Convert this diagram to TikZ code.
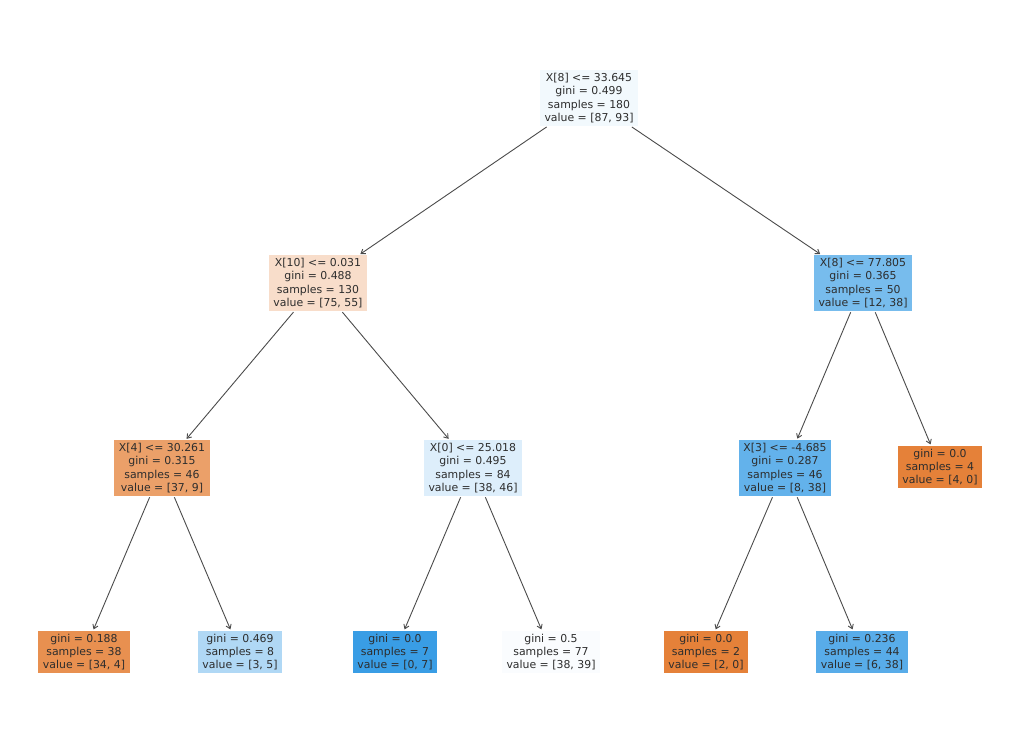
\documentclass[tikz,border=0pt]{standalone}
\usepackage{fontspec}
\setmainfont{DejaVu Sans}
\usetikzlibrary{arrows.meta}
\definecolor{txt}{RGB}{45,45,45}
\definecolor{edg}{RGB}{75,75,75}
\definecolor{c0}{RGB}{242,249,253}
\definecolor{c1}{RGB}{248,221,202}
\definecolor{c2}{RGB}{119,188,237}
\definecolor{c3}{RGB}{235,160,105}
\definecolor{c4}{RGB}{221,238,251}
\definecolor{c5}{RGB}{99,178,235}
\definecolor{c6}{RGB}{229,129,57}
\definecolor{c7}{RGB}{232,144,80}
\definecolor{c8}{RGB}{176,216,245}
\definecolor{c9}{RGB}{57,157,229}
\definecolor{c10}{RGB}{250,252,254}
\definecolor{c11}{RGB}{88,172,233}
\tikzset{
  tnode/.style={align=center, text=txt, inner xsep=4.5pt, inner ysep=3.2pt,
    font=\fontsize{10.9}{13.4}\selectfont},
  conn/.style={draw=edg, line width=0.9pt, -{Straight Barb[length=4pt,width=5.5pt]}, shorten >=1pt, shorten <=1pt}
}
\begin{document}
\begin{tikzpicture}[x=1pt,y=-1pt]
\useasboundingbox (0,0) rectangle (1024,751);
\node[tnode, fill=c0] (n0) at (589,98) {X[8] <= 33.645\\gini = 0.499\\samples = 180\\value = [87, 93]};
\node[tnode, fill=c1] (n1) at (318,283) {X[10] <= 0.031\\gini = 0.488\\samples = 130\\value = [75, 55]};
\node[tnode, fill=c2] (n2) at (863,283) {X[8] <= 77.805\\gini = 0.365\\samples = 50\\value = [12, 38]};
\node[tnode, fill=c3] (n3) at (162,468) {X[4] <= 30.261\\gini = 0.315\\samples = 46\\value = [37, 9]};
\node[tnode, fill=c4] (n4) at (473,468) {X[0] <= 25.018\\gini = 0.495\\samples = 84\\value = [38, 46]};
\node[tnode, fill=c5] (n5) at (785,468) {X[3] <= -4.685\\gini = 0.287\\samples = 46\\value = [8, 38]};
\node[tnode, fill=c6] (n6) at (940,467) {gini = 0.0\\samples = 4\\value = [4, 0]};
\node[tnode, fill=c7] (n7) at (84,652) {gini = 0.188\\samples = 38\\value = [34, 4]};
\node[tnode, fill=c8] (n8) at (240,652) {gini = 0.469\\samples = 8\\value = [3, 5]};
\node[tnode, fill=c9] (n9) at (395,652) {gini = 0.0\\samples = 7\\value = [0, 7]};
\node[tnode, fill=c10] (n10) at (551,652) {gini = 0.5\\samples = 77\\value = [38, 39]};
\node[tnode, fill=c6] (n11) at (706,652) {gini = 0.0\\samples = 2\\value = [2, 0]};
\node[tnode, fill=c11] (n12) at (862,652) {gini = 0.236\\samples = 44\\value = [6, 38]};
\draw[conn] (n0) -- (n1);
\draw[conn] (n0) -- (n2);
\draw[conn] (n1) -- (n3);
\draw[conn] (n1) -- (n4);
\draw[conn] (n2) -- (n5);
\draw[conn] (n2) -- (n6);
\draw[conn] (n3) -- (n7);
\draw[conn] (n3) -- (n8);
\draw[conn] (n4) -- (n9);
\draw[conn] (n4) -- (n10);
\draw[conn] (n5) -- (n11);
\draw[conn] (n5) -- (n12);
\end{tikzpicture}
\end{document}
